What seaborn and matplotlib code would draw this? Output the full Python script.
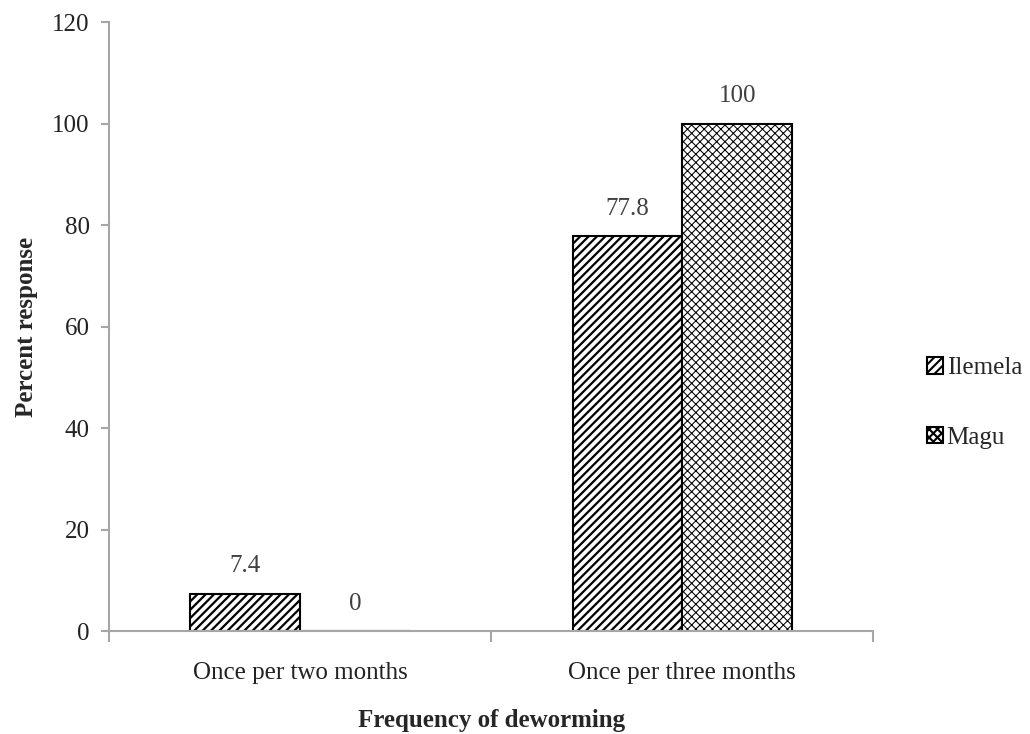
import matplotlib
matplotlib.use("Agg")
import matplotlib.pyplot as plt
import seaborn as sns
import pandas as pd

categories = ["Once per two months", "Once per three months"]
districts = ["Ilemela", "Magu"]
ilemela = [7.4, 77.8]
magu = [0, 100]
label_text = {"Ilemela": ["7.4", "77.8"], "Magu": ["0", "100"]}

df = pd.DataFrame({
    "Frequency": categories * 2,
    "District": [districts[0]] * 2 + [districts[1]] * 2,
    "Percent": ilemela + magu,
})

sns.set_theme(style="white")
plt.rcParams["font.family"] = ["Liberation Serif", "DejaVu Serif"]
plt.rcParams["hatch.linewidth"] = 1.5

FS = 18

fig = plt.figure(figsize=(10.30, 7.34), dpi=100)
ax = fig.add_axes([0.106, 0.140, 0.742, 0.830])

sns.barplot(data=df, x="Frequency", y="Percent", hue="District",
            order=categories, hue_order=districts, width=0.575,
            palette=["white", "white"], edgecolor="black", linewidth=1.5,
            saturation=1, legend=True, ax=ax)

hatches = {"Ilemela": "////", "Magu": "xxxx"}
hlw = {"Ilemela": 1.6, "Magu": 0.75}
for cont, name in zip(ax.containers, districts):
    for bar in cont:
        bar.set_hatch(hatches[name])
        try:
            bar.set_hatch_linewidth(hlw[name])
        except Exception:
            pass
    ax.bar_label(cont, labels=label_text[name], padding=12, fontsize=FS,
                 color="#404040")

ax.set_ylim(0, 120)
ax.set_yticks(range(0, 121, 20))
ax.set_xlim(-0.5, 1.5)
ax.set_xticks([0, 1])
ax.set_xticklabels(categories)
ax.set_xticks([-0.5, 0.5, 1.5], minor=True)
ax.tick_params(axis="x", which="major", length=0, pad=22, labelsize=FS,
               labelcolor="#222222")
ax.tick_params(axis="x", which="minor", length=8, width=1.5, color="#a6a6a6",
               direction="out", bottom=True)
ax.tick_params(axis="y", length=6, width=1.5, color="#a6a6a6", direction="out",
               left=True, labelsize=FS, pad=8, labelcolor="#222222")

for s in ["top", "right"]:
    ax.spines[s].set_visible(False)
for s in ["left", "bottom"]:
    ax.spines[s].set_color("#a6a6a6")
    ax.spines[s].set_linewidth(1.5)

ax.set_xlabel("Frequency of deworming", fontsize=FS, fontweight="bold",
              labelpad=18)
ax.set_ylabel("Percent response", fontsize=FS, fontweight="bold", labelpad=10)

handles, labels = ax.get_legend_handles_labels()
for h, name in zip(handles, districts):
    h.set_hatch(hatches[name])
    try:
        h.set_hatch_linewidth(hlw[name])
    except Exception:
        pass
ax.legend(handles, labels, loc="center left", bbox_to_anchor=(1.05, 0.375),
          frameon=False, fontsize=FS, handlelength=0.65, handleheight=0.65,
          handletextpad=0.15, labelspacing=1.9, borderpad=0.1)

fig.savefig("out.png", dpi=100)
